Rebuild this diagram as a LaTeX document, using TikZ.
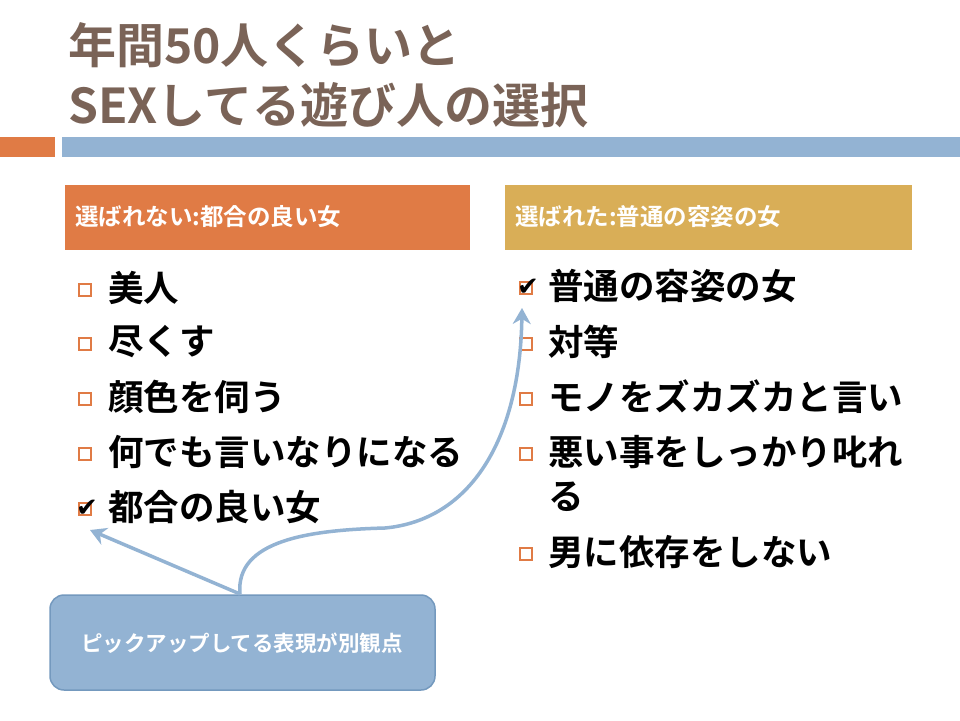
\documentclass[tikz,border=0pt]{standalone}
\usepackage{fontspec}
\setmainfont{Noto Sans CJK JP}
\newfontfamily\jpb{Noto Sans CJK JP Bold}
\newfontfamily\djsym{DejaVu Sans}
\definecolor{brn}{HTML}{7A6357}
\definecolor{org}{HTML}{E07B45}
\definecolor{gld}{HTML}{D9AE57}
\definecolor{blu}{HTML}{93B3D3}
\definecolor{bld}{HTML}{7499BE}
\usetikzlibrary{arrows.meta}
\tikzset{
 item/.style={anchor=west,font=\jpb\fontsize{35.5}{38}\selectfont,inner sep=0},
 hdr/.style={anchor=west,font=\jpb\fontsize{23.5}{26}\selectfont,text=white,inner sep=0},
 cb/.style={draw=org,line width=1.3pt,minimum size=12pt,inner sep=0},
 arr/.style={draw=blu,line width=3.5pt,-{Stealth[length=16pt,width=18pt]}}
}
\begin{document}
\begin{tikzpicture}[x=1pt,y=-1pt]
\useasboundingbox (0,0) rectangle (960,720);
\fill[white] (0,0) rectangle (960,720);
\node[anchor=west,inner sep=0,text=brn,font=\jpb\fontsize{48}{50}\selectfont] (t1) at (68,45) {年間50人くらいと};
\node[anchor=west,inner sep=0,text=brn,font=\jpb\fontsize{48}{50}\selectfont] (t2) at (68,105) {SEXしてる遊び人の選択};
\fill[org] (0,137) rectangle (55,157);
\fill[blu] (62,137) rectangle (960,157);
\fill[org] (65,185) rectangle (470,250);
\fill[gld] (505,185) rectangle (912,250);
\node[hdr] (h1) at (75,217) {選ばれない:都合の良い女};
\node[hdr] (h2) at (515,217) {選ばれた:普通の容姿の女};
\foreach \y/\t [count=\i] in {288/美人,342/尽くす,397/顔色を伺う,452/何でも言いなりになる,507/都合の良い女}{
  \node[cb] (lc\i) at (85,\y+2) {};
  \node[item] (li\i) at (108,\y) {\t};
}
\node[font=\djsym\fontsize{26}{26}\selectfont] (lk) at (87,508) {✔};
\foreach \y/\t [count=\i] in {286/普通の容姿の女,342/対等,397/モノをズカズカと言い,452/悪い事をしっかり叱れ,552/男に依存をしない}{
  \node[cb] (rc\i) at (526,\y+2) {};
  \node[item] (ri\i) at (548,\y) {\t};
}
\node[item] (ri6) at (548,497) {る};
\node[font=\djsym\fontsize{26}{26}\selectfont] (rk) at (528,287) {✔};
\node[draw=bld,fill=blu,line width=1.5pt,rounded corners=14pt,minimum width=385pt,minimum height=95pt] (cl) at (242.5,642.5) {};
\node[font=\jpb\fontsize{21.5}{24}\selectfont,text=white] (ct) at (242,643) {ピックアップしてる表現が別観点};
\coordinate (o) at (240,594);
\draw[arr] (o) -- (90,530);
\draw[arr] (o) .. controls (235,540) and (310,530) .. (385,528) .. controls (470,520) and (520,440) .. (522,308);
\end{tikzpicture}
\end{document}
